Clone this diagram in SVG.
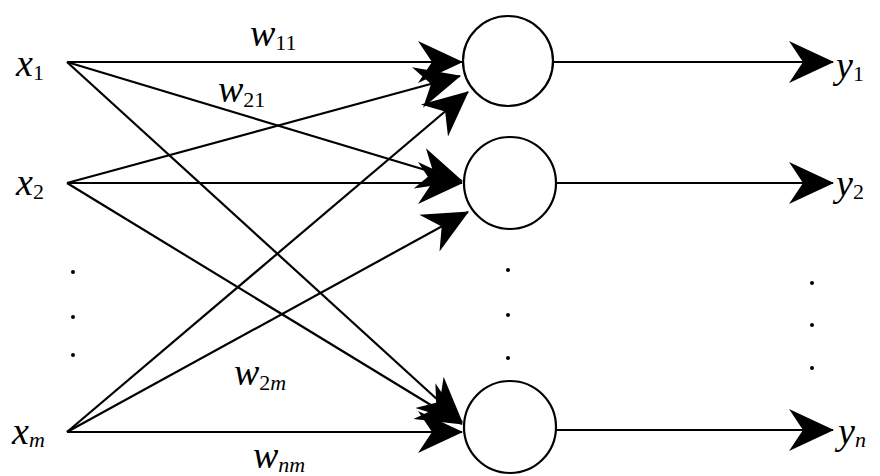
<svg xmlns="http://www.w3.org/2000/svg" width="880" height="476" viewBox="0 0 880 476">
<style>
.ln{stroke:#000;stroke-width:2.2;fill:none;marker-end:url(#ah)}
.nd{fill:#fff;stroke:#000;stroke-width:2.2}
.t{font-family:"Liberation Serif",serif;font-style:italic;font-size:38px;fill:#000}
.s{font-size:22px}
.u{font-style:normal}
.dot{fill:#000}
</style>
<defs>
<marker id="ah" markerUnits="userSpaceOnUse" markerWidth="48" markerHeight="46" viewBox="-46 -23 48 46" refX="0" refY="0" orient="auto">
<path d="M1,0 L-44,-21 L-30,0 L-44,21 Z" fill="#000"/>
</marker>
</defs>
<g id="connectors">
<line class="ln" x1="67" y1="62" x2="462" y2="62"/>
<line class="ln" x1="67" y1="62" x2="462" y2="181"/>
<line class="ln" x1="67" y1="62" x2="462" y2="422"/>
<line class="ln" x1="67" y1="183" x2="460" y2="76"/>
<line class="ln" x1="67" y1="183" x2="462" y2="183"/>
<line class="ln" x1="67" y1="183" x2="462" y2="424"/>
<line class="ln" x1="67" y1="432" x2="468" y2="92"/>
<line class="ln" x1="67" y1="432" x2="468" y2="212"/>
<line class="ln" x1="67" y1="432" x2="462" y2="432"/>
<line class="ln" x1="554" y1="62" x2="833" y2="62"/>
<line class="ln" x1="556" y1="183" x2="833" y2="183"/>
<line class="ln" x1="556" y1="430" x2="833" y2="430"/>
</g>
<g id="n1"><circle class="nd" cx="508" cy="61" r="45"/></g>
<g id="n2"><circle class="nd" cx="510" cy="183" r="46"/></g>
<g id="n3"><circle class="nd" cx="510" cy="427" r="46"/></g>
<g id="x1"><text class="t" x="16" y="76">x<tspan class="s u" dy="4">1</tspan></text></g>
<g id="x2"><text class="t" x="16" y="195">x<tspan class="s u" dy="4">2</tspan></text></g>
<g id="xm"><text class="t" x="12" y="444">x<tspan class="s" dy="3">m</tspan></text></g>
<g id="y1"><text class="t" x="836" y="78">y<tspan class="s u" dy="3">1</tspan></text></g>
<g id="y2"><text class="t" x="836" y="196">y<tspan class="s u" dy="3">2</tspan></text></g>
<g id="yn"><text class="t" x="838" y="444">y<tspan class="s" dy="3">n</tspan></text></g>
<g id="labels">
<text class="t" x="250" y="46">w<tspan class="s u" dy="4">11</tspan></text>
<text class="t" x="218" y="102">w<tspan class="s u" dy="5">21</tspan></text>
<text class="t" x="234" y="385">w<tspan class="s u" dy="5">2</tspan><tspan class="s">m</tspan></text>
<text class="t" x="253" y="468">w<tspan class="s" dy="4">nm</tspan></text>
</g>
<g id="dots">
<circle class="dot" cx="73" cy="272" r="2"/>
<circle class="dot" cx="73" cy="317" r="2"/>
<circle class="dot" cx="73" cy="355" r="2"/>
<circle class="dot" cx="508" cy="270" r="2"/>
<circle class="dot" cx="508" cy="315" r="2"/>
<circle class="dot" cx="508" cy="358" r="2"/>
<circle class="dot" cx="812" cy="283" r="2"/>
<circle class="dot" cx="812" cy="325" r="2"/>
<circle class="dot" cx="812" cy="368" r="2"/>
</g>
</svg>
